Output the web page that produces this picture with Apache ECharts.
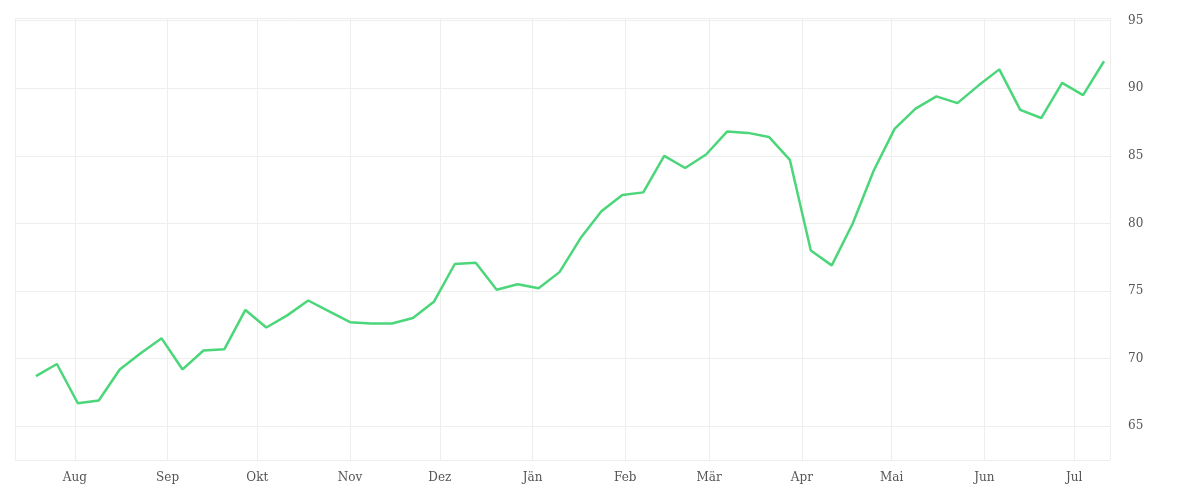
<!DOCTYPE html>
<html><head><meta charset="utf-8">
<script src="https://cdn.jsdelivr.net/npm/echarts@6/dist/echarts.min.js"></script>
<style>html,body{margin:0;padding:0;background:#fff}#c{width:1200px;height:500px}</style>
</head><body><div id="c"></div>
<script>
const startDate = '2022-07-19';
const values = [68.7,69.6,66.7,66.9,69.2,70.4,71.5,69.2,70.6,70.7,73.6,72.3,73.2,74.3,73.5,72.7,72.6,72.6,73.0,74.2,77.0,77.1,75.1,75.5,75.2,76.4,78.9,80.9,82.1,82.3,85.0,84.1,85.1,86.8,86.7,86.4,84.7,78.0,76.9,80.0,83.9,87.0,88.5,89.4,88.9,90.2,91.4,88.4,87.8,90.4,89.5,92.0];
const monthNames = ['Jän','Feb','Mär','Apr','Mai','Jun','Jul','Aug','Sep','Okt','Nov','Dez'];
const DAY = 86400000;
const t0 = Date.UTC(2022,6,19);
const data = values.map((v,i)=>[t0 + i*7*DAY, v]);
const chart = echarts.init(document.getElementById('c'));
chart.setOption({
  animation:false,
  grid:{left:15,right:90,top:18,bottom:40},
  xAxis:{type:'time',min:Date.UTC(2022,6,12),max:Date.UTC(2023,6,13),
    minInterval:28*DAY,maxInterval:31*DAY,
    axisLine:{show:false},axisTick:{show:false},
    splitLine:{show:true,lineStyle:{color:'#eeeeee'}},
    axisLabel:{color:'#555',fontFamily:'DejaVu Serif',fontSize:12,margin:12,
      formatter:v=>monthNames[new Date(v).getUTCMonth()]}},
  yAxis:{type:'value',position:'right',min:62.5,max:95.2,splitNumber:6,
    axisLine:{show:false},axisTick:{show:false},
    splitLine:{lineStyle:{color:'#eeeeee'}},
    axisLabel:{color:'#555',fontFamily:'DejaVu Serif',fontSize:12,margin:18,
      formatter:v=>(Math.abs(v%5)<1e-6?String(v):'')}},
  series:[{type:'line',data:data,showSymbol:false,lineStyle:{color:'#4cd67a',width:2.5},itemStyle:{color:'#4cd67a'}}]
});
</script></body></html>
